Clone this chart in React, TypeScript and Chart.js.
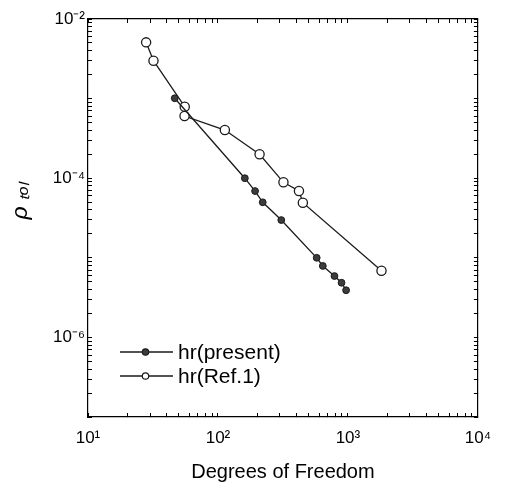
import React, { useEffect, useRef } from 'react';
import { Chart, registerables } from 'chart.js';

Chart.register(...registerables);

// ---- data ----
const seriesNames = ['hr(present)', 'hr(Ref.1)'];
const presentDof = [46.5, 161, 193, 221, 307, 575, 641, 788, 893, 968];
const presentRho = [1.01e-3, 1.0e-4, 6.9e-5, 4.98e-5, 2.98e-5, 1.0e-5, 7.9e-6, 5.9e-6, 4.86e-6, 3.91e-6];
const refDof = [28, 31.9, 55.5, 55.3, 113, 209, 319, 420, 450, 1812];
const refRho = [5.09e-3, 2.99e-3, 7.9e-4, 6.04e-4, 4.03e-4, 2.0e-4, 8.88e-5, 6.9e-5, 4.92e-5, 6.89e-6];

// ---- axes ----
const xDecades = [10, 100, 1000, 10000];
const xTickLabels = ['10¹', '10²', '10³', '10⁴'];
const yDecades = [1e-7, 1e-6, 1e-5, 1e-4, 1e-3, 1e-2];
const yTickLabels = ['', '10⁻⁶', '', '10⁻⁴', '', '10⁻²'];
const minorMultipliers = [1, 2, 3, 4, 5, 6, 7, 8, 9];
const xTitle = 'Degrees of Freedom';
const yTitle = 'ρ ₜₒₗ';

const tickValues = (decades: number[]) => {
  const out: number[] = [];
  decades.forEach((d, i) => {
    if (i === decades.length - 1) out.push(d);
    else minorMultipliers.forEach((m) => out.push(Number((m * d).toPrecision(10))));
  });
  return out;
};

const labelFor = (decades: number[], labels: string[]) => (value: number) => {
  const i = decades.findIndex((d) => Math.abs(Math.log10(d) - Math.log10(value)) < 1e-6);
  return i >= 0 ? labels[i] : '';
};

const LINE = '#1a1a1a';
const FONT = "'Liberation Sans', Arial, Helvetica, sans-serif";

const insetLegend = {
  id: 'insetLegend',
  afterDraw(chart: any) {
    const { ctx, chartArea } = chart;
    const x0 = chartArea.left + 32;
    const x1 = x0 + 53;
    const textX = x1 + 5;
    const y0 = chartArea.bottom - 65;
    const gap = 24;
    chart.data.datasets.forEach((ds: any, i: number) => {
      const y = y0 + i * gap;
      ctx.save();
      ctx.strokeStyle = ds.borderColor;
      ctx.lineWidth = ds.borderWidth;
      ctx.beginPath();
      ctx.moveTo(x0, y);
      ctx.lineTo(x1, y);
      ctx.stroke();
      ctx.beginPath();
      ctx.arc((x0 + x1) / 2 - 1, y, 3.2, 0, Math.PI * 2);
      ctx.fillStyle = ds.pointBackgroundColor;
      ctx.fill();
      ctx.lineWidth = 1.2;
      ctx.strokeStyle = ds.pointBorderColor;
      ctx.stroke();
      ctx.fillStyle = '#000';
      ctx.font = `21px ${FONT}`;
      ctx.textBaseline = 'middle';
      ctx.textAlign = 'left';
      ctx.fillText(ds.label, textX, y + 1);
      ctx.restore();
    });
  },
};

const axisBase = (min: number, max: number, decades: number[]) => ({
  type: 'logarithmic' as const,
  min,
  max,
  afterBuildTicks: (s: any) => {
    s.ticks = tickValues(decades).map((v) => ({ value: v }));
  },
  grid: {
    drawOnChartArea: false,
    drawTicks: true,
    tickLength: -4,
    color: '#000',
    tickColor: '#000',
    lineWidth: 1,
  },
  border: { display: true, color: '#000', width: 1.2 },
});

export default function App() {
  const ref = useRef<HTMLCanvasElement>(null);

  useEffect(() => {
    if (!ref.current) return;
    Chart.defaults.font.family = FONT;
    Chart.defaults.color = '#000';
    const chart = new Chart(ref.current, {
      type: 'scatter',
      data: {
        datasets: [
          {
            label: seriesNames[0],
            data: presentDof.map((x, i) => ({ x, y: presentRho[i] })),
            showLine: true,
            borderColor: LINE,
            borderWidth: 1.3,
            pointRadius: 3.4,
            pointBackgroundColor: '#3c3c3c',
            pointBorderColor: LINE,
            pointBorderWidth: 1,
          },
          {
            label: seriesNames[1],
            data: refDof.map((x, i) => ({ x, y: refRho[i] })),
            showLine: true,
            borderColor: LINE,
            borderWidth: 1.3,
            pointRadius: 4.6,
            pointBackgroundColor: '#ffffff',
            pointBorderColor: LINE,
            pointBorderWidth: 1.3,
          },
        ],
      },
      options: {
        responsive: false,
        animation: false,
        devicePixelRatio: 1,
        layout: { padding: 0 },
        plugins: { legend: { display: false }, tooltip: { enabled: false } },
        scales: {
          x: {
            ...axisBase(10, 10000, xDecades),
            position: 'bottom',
            afterFit: (s: any) => {
              s.height = 71;
            },
            ticks: {
              autoSkip: false,
              maxRotation: 0,
              padding: 15,
              font: { size: 17 },
              callback: labelFor(xDecades, xTickLabels),
            },
            title: {
              display: true,
              text: xTitle,
              font: { size: 20 },
              padding: { top: 0, bottom: 4 },
            },
          },
          x2: {
            ...axisBase(10, 10000, xDecades),
            position: 'top',
            afterFit: (s: any) => {
              s.height = 19;
            },
            ticks: { display: false, autoSkip: false },
          },
          y: {
            ...axisBase(1e-7, 1e-2, yDecades),
            position: 'left',
            afterFit: (s: any) => {
              s.width = 88;
            },
            ticks: {
              autoSkip: false,
              padding: 7,
              font: { size: 17 },
              callback: labelFor(yDecades, yTickLabels),
            },
            title: {
              display: true,
              text: '\u2003\u2002' + yTitle,
              font: { size: 23, style: 'italic' },
              padding: { top: 7, bottom: 0 },
            },
          },
          y2: {
            ...axisBase(1e-7, 1e-2, yDecades),
            position: 'right',
            afterFit: (s: any) => {
              s.width = 15;
            },
            ticks: { display: false, autoSkip: false },
          },
        },
      } as any,
      plugins: [insetLegend],
    });
    return () => chart.destroy();
  }, []);

  return (
    <div style={{ position: 'fixed', left: 0, top: 0, width: 506, height: 488, background: '#fff' }}>
      <canvas ref={ref} width={506} height={488} />
    </div>
  );
}
